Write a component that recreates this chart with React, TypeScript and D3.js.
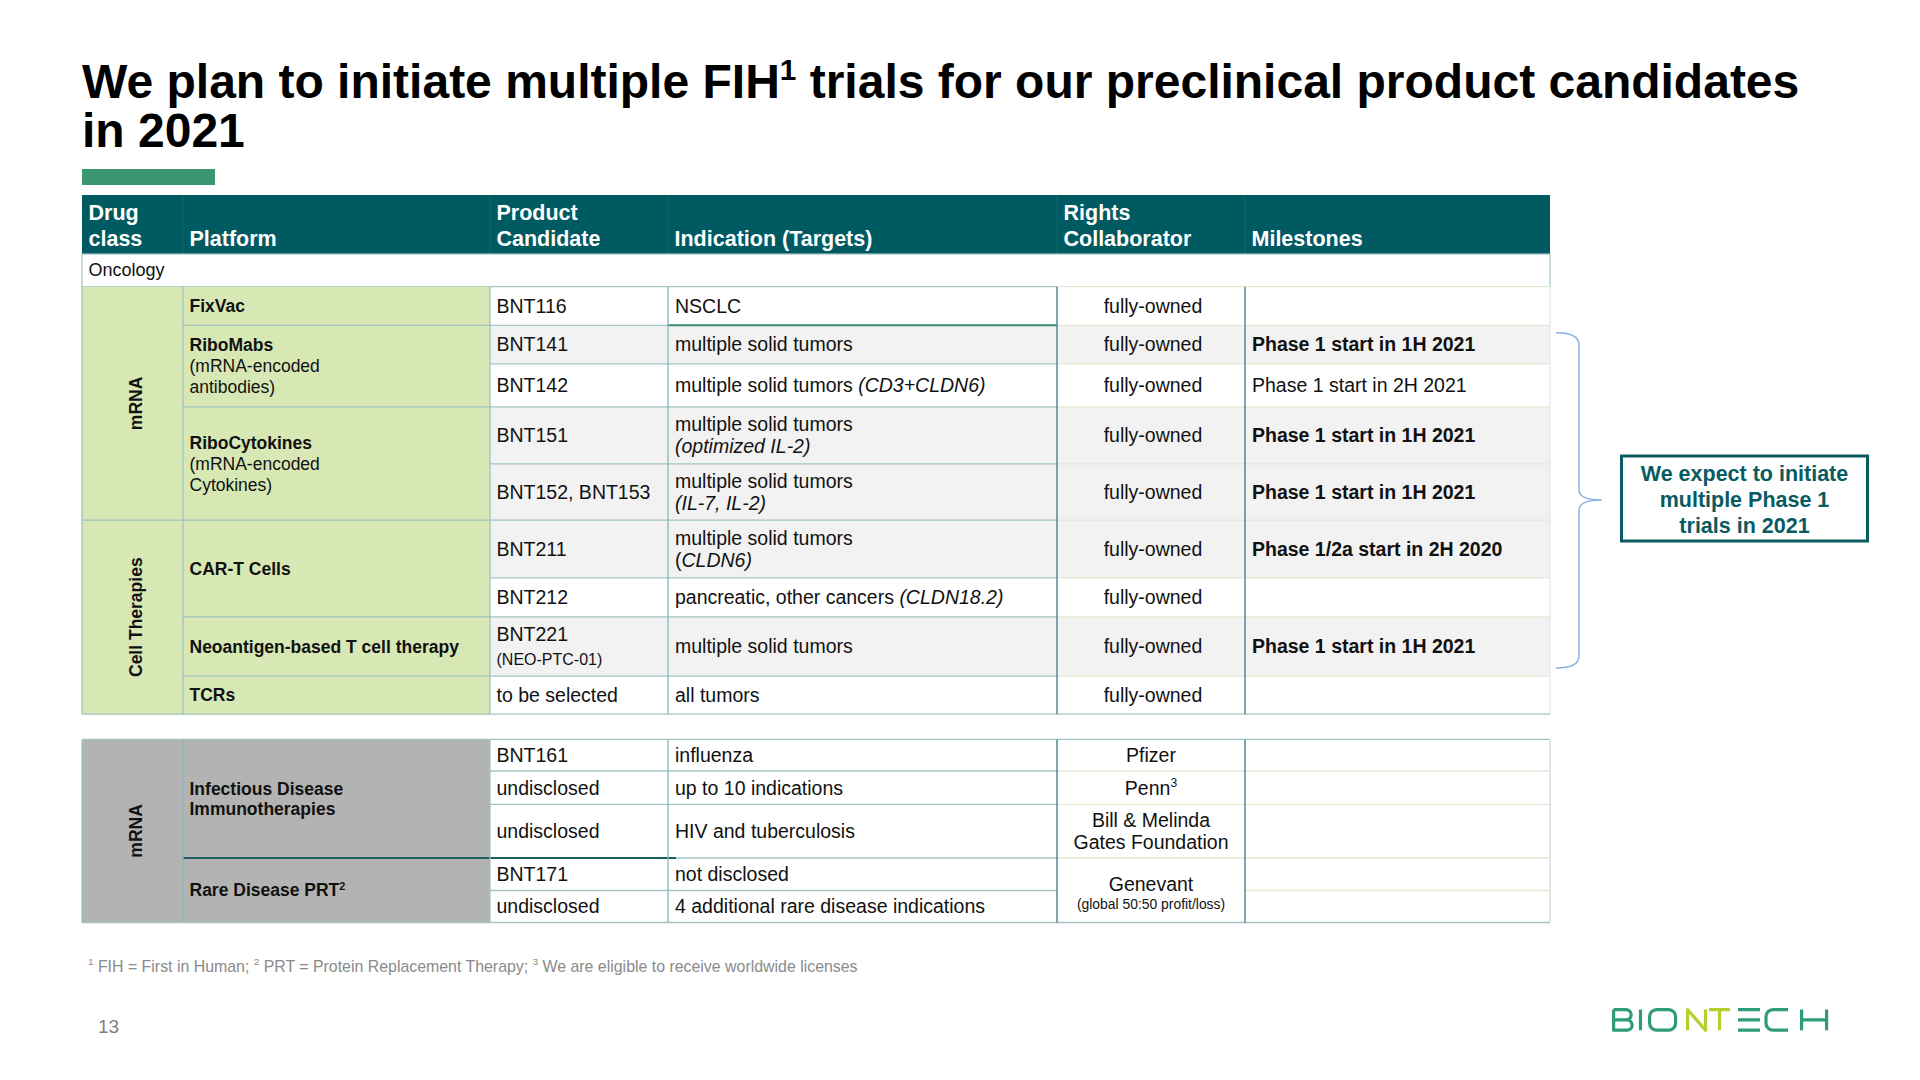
import React from "react";
import * as d3 from "d3";

// ---------- DATA ----------
const titleLines = ["We plan to initiate multiple FIH^1 trials for our preclinical product candidates", "in 2021"];
const headerLabels = [["Drug", "class"], ["Platform"], ["Product", "Candidate"], ["Indication (Targets)"], ["Rights", "Collaborator"], ["Milestones"]];
const sectionLabel = "Oncology";

const oncoDrugClasses = [{ label: "mRNA", rows: 5 }, { label: "Cell Therapies", rows: 4 }];
const oncoPlatforms = [
  { name: "FixVac", sub: [] as string[], rows: 1 },
  { name: "RiboMabs", sub: ["(mRNA-encoded", "antibodies)"], rows: 2 },
  { name: "RiboCytokines", sub: ["(mRNA-encoded", "Cytokines)"], rows: 2 },
  { name: "CAR-T Cells", sub: [] as string[], rows: 2 },
  { name: "Neoantigen-based T cell therapy", sub: [] as string[], rows: 1 },
  { name: "TCRs", sub: [] as string[], rows: 1 },
];
const oncoProducts = ["BNT116", "BNT141", "BNT142", "BNT151", "BNT152, BNT153", "BNT211", "BNT212", "BNT221", "to be selected"];
const oncoProductNotes = ["", "", "", "", "", "", "", "(NEO-PTC-01)", ""];
const oncoIndications = [
  "NSCLC",
  "multiple solid tumors",
  "multiple solid tumors *(CD3+CLDN6)*",
  "multiple solid tumors\n*(optimized IL-2)*",
  "multiple solid tumors\n*(IL-7, IL-2)*",
  "multiple solid tumors\n(*CLDN6)*",
  "pancreatic, other cancers *(CLDN18.2)*",
  "multiple solid tumors",
  "all tumors",
];
const oncoRights = ["fully-owned", "fully-owned", "fully-owned", "fully-owned", "fully-owned", "fully-owned", "fully-owned", "fully-owned", "fully-owned"];
const oncoMilestones = ["", "Phase 1 start in 1H 2021", "Phase 1 start in 2H 2021", "Phase 1 start in 1H 2021", "Phase 1 start in 1H 2021", "Phase 1/2a start in 2H 2020", "", "Phase 1 start in 1H 2021", ""];
const oncoMilestoneBold = [false, true, false, true, true, true, false, true, false];
const oncoShaded = [false, true, false, true, true, true, false, true, false];

const idDrugClass = "mRNA";
const idPlatforms = [
  { lines: ["Infectious Disease", "Immunotherapies"], rows: 3 },
  { lines: ["Rare Disease PRT^2"], rows: 2 },
];
const idProducts = ["BNT161", "undisclosed", "undisclosed", "BNT171", "undisclosed"];
const idIndications = ["influenza", "up to 10 indications", "HIV and tuberculosis", "not disclosed", "4 additional rare disease indications"];
const idRights = [
  { lines: ["Pfizer"], small: "", rows: 1 },
  { lines: ["Penn^3"], small: "", rows: 1 },
  { lines: ["Bill & Melinda", "Gates Foundation"], small: "", rows: 1 },
  { lines: ["Genevant"], small: "(global 50:50 profit/loss)", rows: 2 },
];

const calloutLines = ["We expect to initiate", "multiple Phase 1", "trials in 2021"];
const footnote = "^1 FIH = First in Human; ^2 PRT = Protein Replacement Therapy; ^3 We are eligible to receive worldwide licenses";
const pageNumber = "13";

// ---------- LAYOUT ----------
const FONT = "'Liberation Sans', Arial, Helvetica, sans-serif";
const colEdges = [82, 183, 490, 668, 1057, 1245, 1550];
const HEADER_TOP = 195, HEADER_BOT = 254, SECTION_BOT = 286.7;
const oncoHeights = [38.6, 38.5, 43, 57, 56.4, 57.7, 39, 59.3, 38];
const idTop = 739.4;
const idHeights = [31.6, 33.4, 53.6, 32.5, 32];

const C = {
  header: "#005a62",
  accent: "#3b9771",
  green: "#d7e8b5",
  grayCell: "#b3b3b3",
  shade: "#f2f2f2",
  line: "#a3c4c4",
  lineFaint: "#e2ead4",
  lineDark: "#4f8d92",
  teal: "#0a5a62",
  brace: "#8db3e2",
  foot: "#8a8a8a",
};

const FS = 19.5, LH = 21.6, PFS = 17.5, PLH = 21;

function rich(line: string, fs: number) {
  const out: any[] = [];
  let italic = false;
  let raised = false;
  let buf = "";
  let key = 0;
  const flush = () => {
    if (buf) {
      out.push(
        <tspan key={key++} fontStyle={italic ? "italic" : "normal"} dy={raised ? fs * 0.38 : undefined}>
          {buf}
        </tspan>
      );
      raised = false;
      buf = "";
    }
  };
  for (let i = 0; i < line.length; i++) {
    const c = line[i];
    if (c === "*") {
      flush();
      italic = !italic;
    } else if (c === "^") {
      flush();
      const d = line[i + 1];
      i++;
      out.push(
        <tspan key={key++} fontSize={fs * 0.62} dy={-fs * 0.38}>
          {d}
        </tspan>
      );
      raised = true;
    } else buf += c;
  }
  flush();
  return out;
}

function Lines({ lines, x, cy, fs = FS, lh = LH, anchor = "start", weight = "normal", fill = "#111" }: any) {
  const n = lines.length;
  const b0 = cy - ((n - 1) * lh) / 2 + fs * 0.35;
  return (
    <g>
      {lines.map((l: string, i: number) => (
        <text key={i} x={x} y={b0 + i * lh} fontSize={fs} fontWeight={weight} textAnchor={anchor} fill={fill} fontFamily={FONT}>
          {rich(l, fs)}
        </text>
      ))}
    </g>
  );
}

function Logo() {
  const t = 1009.6, b = 1030.2, m = (t + b) / 2, r = (m - t) / 2;
  const green = "#2f9b78", lime = "#b5cf2d";
  const sw = 3.2;
  return (
    <g fill="none" strokeWidth={sw} strokeLinecap="butt" strokeLinejoin="round">
      <path stroke={green} d={`M1613.6 ${t} V${b} H1627 A${r} ${r} 0 0 0 1627 ${m} H1613.6 M1613.6 ${t} H1626 A${r} ${r} 0 0 1 1626 ${m}`} />
      <path stroke={green} d={`M1640.5 ${t} V${b}`} />
      <rect stroke={green} x={1649.6} y={t} width={26} height={b - t} rx={7} />
      <path stroke={lime} d={`M1687.6 ${b} V${t} L1705.5 ${b} V${t}`} />
      <path stroke={lime} d={`M1709 ${t} H1730 M1719.5 ${t} V${b}`} />
      <path stroke={green} d={`M1738 ${t} H1760 M1738 ${m} H1760 M1738 ${b} H1760`} />
      <path stroke={green} d={`M1788 ${t} H1773 A7 7 0 0 0 1766 ${t + 7} V${b - 7} A7 7 0 0 0 1773 ${b} H1788`} />
      <path stroke={green} d={`M1801.6 ${t} V${b} M1826.6 ${t} V${b} M1801.6 ${m} H1826.6`} />
    </g>
  );
}

export default function App() {
  const oncoEdges = [SECTION_BOT, ...Array.from(d3.cumsum(oncoHeights)).map((v) => SECTION_BOT + v)];
  const idEdges = [idTop, ...Array.from(d3.cumsum(idHeights)).map((v) => idTop + v)];
  const x = colEdges;
  const left = x[0], right = x[6];

  const groupEdges = (edges: number[], groups: { rows: number }[]) => {
    const res: [number, number][] = [];
    let r = 0;
    groups.forEach((g) => {
      res.push([edges[r], edges[r + g.rows]]);
      r += g.rows;
    });
    return res;
  };

  const oncoDC = groupEdges(oncoEdges, oncoDrugClasses);
  const oncoPl = groupEdges(oncoEdges, oncoPlatforms);
  const idPl = groupEdges(idEdges, idPlatforms);
  const idRi = groupEdges(idEdges, idRights);
  const oncoBot = oncoEdges[oncoEdges.length - 1];
  const idBot = idEdges[idEdges.length - 1];
  const rightsCx = (x[4] + x[5]) / 2;

  return (
    <div style={{ position: "absolute", left: 0, top: 0 }}>
      <svg width={1920} height={1080} style={{ display: "block", background: "#fff" }} fontFamily={FONT}>
        {/* Title */}
        {titleLines.map((l, i) => (
          <text key={i} x={82} y={98 + i * 49} fontSize={48} fontWeight="bold" fill="#000">
            {rich(l, 48)}
          </text>
        ))}
        <rect x={82} y={169} width={133} height={16} fill={C.accent} />

        {/* Header */}
        <rect x={left} y={HEADER_TOP} width={right - left} height={HEADER_BOT - HEADER_TOP} fill={C.header} />
        {x.slice(1, 6).map((xx, i) => (
          <line key={i} x1={xx} x2={xx} y1={HEADER_TOP} y2={HEADER_BOT} stroke="#15666d" strokeWidth={1} />
        ))}
        {headerLabels.map((lab, i) => (
          <g key={i}>
            {lab.map((t, j) => (
              <text key={j} x={x[i] + 6.5} y={246 - (lab.length - 1 - j) * 26} fontSize={21.5} fontWeight="bold" fill="#fff">
                {t}
              </text>
            ))}
          </g>
        ))}

        {/* Oncology section label */}
        <rect x={left} y={HEADER_BOT} width={right - left} height={SECTION_BOT - HEADER_BOT} fill="#fff" stroke={C.line} strokeWidth={1.2} />
        <text x={88.5} y={276} fontSize={18} fill="#111">{sectionLabel}</text>

        {/* Oncology body backgrounds */}
        <rect x={left} y={SECTION_BOT} width={x[2] - left} height={oncoBot - SECTION_BOT} fill={C.green} />
        {oncoProducts.map((_, i) => (
          <rect key={i} x={x[2]} y={oncoEdges[i]} width={right - x[2]} height={oncoEdges[i + 1] - oncoEdges[i]} fill={oncoShaded[i] ? C.shade : "#fff"} />
        ))}

        {/* Oncology lines */}
        {oncoEdges.map((y, i) => (
          <g key={i}>
            <line x1={x[2]} x2={x[4]} y1={y} y2={y} stroke={C.line} strokeWidth={1.3} />
            <line x1={x[4]} x2={right} y1={y} y2={y} stroke={i === oncoEdges.length - 1 ? C.line : C.lineFaint} strokeWidth={1.3} />
          </g>
        ))}
        {oncoPl.map(([y0, y1], i) => (
          <line key={i} x1={x[1]} x2={x[2]} y1={y1} y2={y1} stroke="#9ec3bd" strokeWidth={1.3} />
        ))}
        {oncoDC.map(([y0, y1], i) => (
          <line key={i} x1={left} x2={x[1]} y1={y1} y2={y1} stroke="#9ec3bd" strokeWidth={1.3} />
        ))}
        <line x1={x[3]} x2={x[4]} y1={oncoEdges[1]} y2={oncoEdges[1]} stroke="#3a8f77" strokeWidth={2} />
        <line x1={left} x2={left} y1={SECTION_BOT} y2={oncoBot} stroke="#9ec3bd" strokeWidth={1.3} />
        <line x1={x[1]} x2={x[1]} y1={SECTION_BOT} y2={oncoBot} stroke="#9ec3bd" strokeWidth={1.3} />
        <line x1={x[2]} x2={x[2]} y1={SECTION_BOT} y2={oncoBot} stroke="#9ec3c3" strokeWidth={1.3} />
        <line x1={x[3]} x2={x[3]} y1={SECTION_BOT} y2={oncoBot} stroke="#8db5b7" strokeWidth={1.3} />
        <line x1={x[4]} x2={x[4]} y1={SECTION_BOT} y2={oncoBot} stroke={C.lineDark} strokeWidth={1.5} />
        <line x1={x[5]} x2={x[5]} y1={SECTION_BOT} y2={oncoBot} stroke={C.lineDark} strokeWidth={1.5} />
        <line x1={right} x2={right} y1={SECTION_BOT} y2={oncoBot} stroke="#dde6e6" strokeWidth={1.2} />

        {/* Oncology drug classes */}
        {oncoDrugClasses.map((d, i) => {
          const cy = (oncoDC[i][0] + oncoDC[i][1]) / 2;
          return (
            <text key={i} transform={`translate(136,${cy}) rotate(-90)`} textAnchor="middle" dominantBaseline="central" fontSize={17.5} fontWeight="bold" fill="#111">
              {d.label}
            </text>
          );
        })}
        {/* Oncology platforms */}
        {oncoPlatforms.map((p, i) => {
          const cy = (oncoPl[i][0] + oncoPl[i][1]) / 2;
          const lines = [p.name, ...p.sub];
          const n = lines.length;
          const b0 = cy - ((n - 1) * PLH) / 2 + PFS * 0.35;
          return (
            <g key={i}>
              {lines.map((l, j) => (
                <text key={j} x={189.5} y={b0 + j * PLH} fontSize={PFS} fontWeight={j === 0 ? "bold" : "normal"} fill="#111">
                  {l}
                </text>
              ))}
            </g>
          );
        })}
        {/* Oncology rows */}
        {oncoProducts.map((p, i) => {
          const cy = (oncoEdges[i] + oncoEdges[i + 1]) / 2;
          return (
            <g key={i}>
              {oncoProductNotes[i] ? (
                <g>
                  <text x={496.5} y={cy - 5.5} fontSize={FS} fill="#111">{p}</text>
                  <text x={496.5} y={cy + 18.5} fontSize={16} fill="#111">{oncoProductNotes[i]}</text>
                </g>
              ) : (
                <Lines lines={[p]} x={496.5} cy={cy} />
              )}
              <Lines lines={oncoIndications[i].split("\n")} x={675} cy={cy} />
              <Lines lines={[oncoRights[i]]} x={rightsCx + 2} cy={cy} anchor="middle" />
              {oncoMilestones[i] && <Lines lines={[oncoMilestones[i]]} x={1252} cy={cy} weight={oncoMilestoneBold[i] ? "bold" : "normal"} />}
            </g>
          );
        })}

        {/* Second table */}
        <rect x={left} y={idTop} width={x[2] - left} height={idBot - idTop} fill={C.grayCell} />
        <rect x={x[2]} y={idTop} width={right - x[2]} height={idBot - idTop} fill="#fff" />
        {idEdges.map((y, i) => {
          const outer = i === 0 || i === idEdges.length - 1;
          return (
            <g key={i}>
              <line x1={x[2]} x2={x[4]} y1={y} y2={y} stroke={C.line} strokeWidth={1.3} />
              <line x1={x[5]} x2={right} y1={y} y2={y} stroke={outer ? C.line : C.lineFaint} strokeWidth={1.3} />
              {outer && <line x1={left} x2={x[2]} y1={y} y2={y} stroke={C.line} strokeWidth={1.3} />}
            </g>
          );
        })}
        {idRi.map(([y0, y1], i) => (
          <line key={i} x1={x[4]} x2={x[5]} y1={y1} y2={y1} stroke={i === idRi.length - 1 ? C.line : C.lineFaint} strokeWidth={1.3} />
        ))}
        <line x1={x[4]} x2={x[5]} y1={idTop} y2={idTop} stroke={C.line} strokeWidth={1.3} />
        <line x1={x[1]} x2={x[3] + 8} y1={idPl[0][1]} y2={idPl[0][1]} stroke="#1e5f66" strokeWidth={2} />
        <line x1={left} x2={left} y1={idTop} y2={idBot} stroke="#9ec3bd" strokeWidth={1.3} />
        <line x1={x[1]} x2={x[1]} y1={idTop} y2={idBot} stroke="#8fb7b3" strokeWidth={1.3} />
        <line x1={x[2]} x2={x[2]} y1={idTop} y2={idBot} stroke="#9ec3c3" strokeWidth={1.3} />
        <line x1={x[3]} x2={x[3]} y1={idTop} y2={idBot} stroke="#8db5b7" strokeWidth={1.3} />
        <line x1={x[4]} x2={x[4]} y1={idTop} y2={idBot} stroke={C.lineDark} strokeWidth={1.5} />
        <line x1={x[5]} x2={x[5]} y1={idTop} y2={idBot} stroke={C.lineDark} strokeWidth={1.5} />
        <line x1={right} x2={right} y1={idTop} y2={idBot} stroke="#c9dada" strokeWidth={1.2} />

        <text transform={`translate(136,${(idTop + idBot) / 2}) rotate(-90)`} textAnchor="middle" dominantBaseline="central" fontSize={17.5} fontWeight="bold" fill="#111">
          {idDrugClass}
        </text>
        {idPlatforms.map((p, i) => (
          <Lines key={i} lines={p.lines} x={189.5} cy={(idPl[i][0] + idPl[i][1]) / 2} fs={PFS} lh={20} weight="bold" />
        ))}
        {idProducts.map((p, i) => {
          const cy = (idEdges[i] + idEdges[i + 1]) / 2;
          return (
            <g key={i}>
              <Lines lines={[p]} x={496.5} cy={cy} />
              <Lines lines={[idIndications[i]]} x={675} cy={cy} />
            </g>
          );
        })}
        {idRights.map((r, i) => {
          const [y0, y1] = idRi[i];
          const cy = (y0 + y1) / 2;
          if (r.small) {
            return (
              <g key={i}>
                <text x={rightsCx} y={cy + 0.5} fontSize={FS} textAnchor="middle" fill="#111">{r.lines[0]}</text>
                <text x={rightsCx} y={cy + 19} fontSize={13.9} textAnchor="middle" fill="#111">{r.small}</text>
              </g>
            );
          }
          return <Lines key={i} lines={r.lines} x={rightsCx} cy={cy} anchor="middle" />;
        })}

        {/* Brace and callout */}
        <path
          d="M1556 332.7 Q1579 332.7 1579 345 L1579 490 Q1579 500 1602 500 Q1579 500 1579 510 L1579 656 Q1579 668 1556 668"
          fill="none"
          stroke={C.brace}
          strokeWidth={1.5}
        />
        <rect x={1621.5} y={456} width={246} height={85} fill="#fff" stroke={C.teal} strokeWidth={3} />
        {calloutLines.map((l, i) => (
          <text key={i} x={1744.5} y={481 + i * 26} fontSize={21.5} fontWeight="bold" textAnchor="middle" fill={C.teal}>
            {l}
          </text>
        ))}

        {/* Footnote & page number */}
        <text x={88} y={971.5} fontSize={15.9} fill={C.foot}>{rich(footnote, 15.9)}</text>
        <text x={98} y={1033} fontSize={19} fill="#7f7f7f">{pageNumber}</text>
        <Logo />
      </svg>
    </div>
  );
}
